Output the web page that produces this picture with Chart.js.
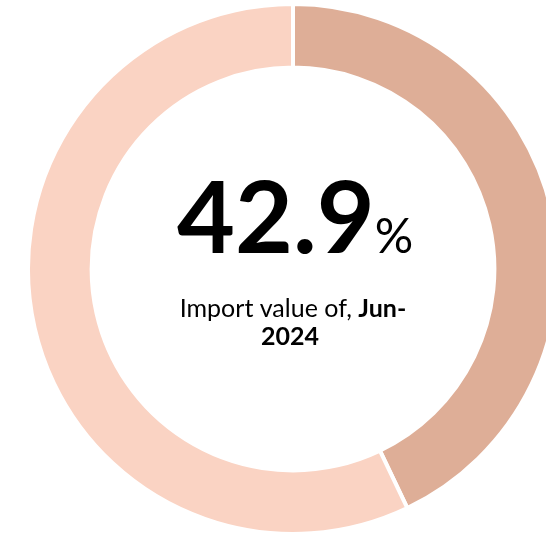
<!DOCTYPE html>
<html>
<head>
<meta charset="utf-8">
<script src="https://cdn.jsdelivr.net/npm/chart.js@4.4.1/dist/chart.umd.min.js"></script>
<style>
  html, body { margin: 0; padding: 0; background: #fff; overflow: hidden; width: 546px; height: 536px; }
  #wrap { position: absolute; left: 26px; top: 2px; width: 534px; height: 534px; }
</style>
</head>
<body>
<div id="wrap"><canvas id="importChart"></canvas></div>
<script>
const labels = ["Import", "Other"];
const shares = [42.9, 57.1];
const sliceColors = ["#DEAE97", "#FAD3C3"];
const period = "Jun-2024";

const FONT = "Lato";

// writes the share and caption in the hole of the ring
const centerText = {
  id: "centerText",
  afterDraw(chart) {
    const { ctx } = chart;
    const arc = chart.getDatasetMeta(0).data[0];
    const cx = arc.x, cy = arc.y;
    ctx.save();
    ctx.fillStyle = "#000";
    ctx.textBaseline = "alphabetic";
    ctx.textAlign = "left";

    const big = shares[0].toFixed(1);
    ctx.font = `bold 100px ${FONT}`;
    const wBig = ctx.measureText(big).width;
    ctx.font = `48px ${FONT}`;
    const wPct = ctx.measureText("%").width;
    let x = cx + 2 - (wBig + wPct) / 2;
    const yBig = cy - 16;
    ctx.font = `bold 100px ${FONT}`;
    ctx.fillText(big, x, yBig);
    ctx.font = `48px ${FONT}`;
    ctx.fillText("%", x + wBig, yBig);

    const [mon, yr] = period.split("-");
    const pre = "Import value of, ";
    const boldPart = mon + "-";
    ctx.font = `25px ${FONT}`;
    const wPre = ctx.measureText(pre).width;
    ctx.font = `bold 25px ${FONT}`;
    const wB = ctx.measureText(boldPart).width;
    x = cx - (wPre + wB) / 2;
    const y1 = cy + 48;
    ctx.font = `25px ${FONT}`;
    ctx.fillText(pre, x, y1);
    ctx.font = `bold 25px ${FONT}`;
    ctx.fillText(boldPart, x + wPre, y1);
    ctx.textAlign = "center";
    ctx.fillText(yr, cx - 3, y1 + 28);
    ctx.restore();
  }
};

new Chart(document.getElementById("importChart"), {
  type: "doughnut",
  data: {
    labels: labels,
    datasets: [{
      data: shares,
      backgroundColor: sliceColors,
      borderColor: "#fff",
      borderWidth: 4,
      hoverOffset: 0
    }]
  },
  plugins: [centerText],
  options: {
    animation: false,
    responsive: true,
    maintainAspectRatio: false,
    cutout: "76%",
    layout: { padding: 0 },
    plugins: {
      legend: { display: false },
      tooltip: { enabled: false }
    }
  }
});
</script>
</body>
</html>
